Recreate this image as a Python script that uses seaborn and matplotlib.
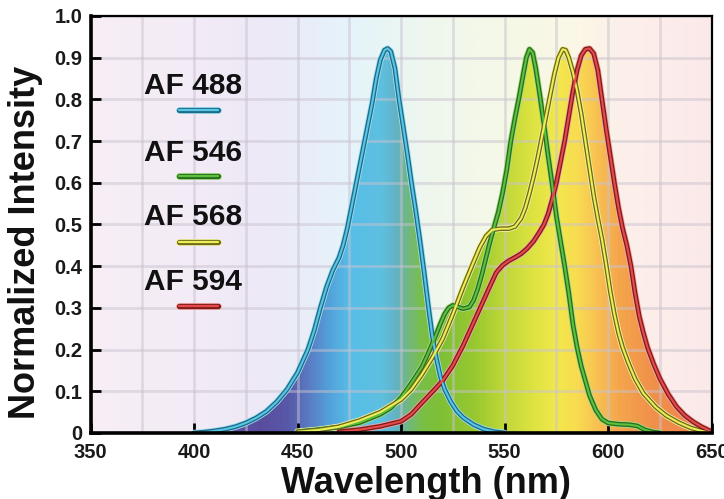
import numpy as np
import pandas as pd
import matplotlib
matplotlib.use("Agg")
import matplotlib.pyplot as plt
import seaborn as sns
from matplotlib.colors import LinearSegmentedColormap
from matplotlib.patches import Polygon

# ---------------- data ----------------
dyes = ["AF 488", "AF 546", "AF 568", "AF 594"]

wl_488 = [400, 405, 410, 415, 420, 425, 430, 435, 440, 445, 450, 455, 458, 461, 464, 467, 470,
          472, 474, 476, 478, 480, 482, 484, 486, 488, 490, 492, 493.5, 495, 497, 499, 501,
          503, 505, 507, 509, 511, 513, 515, 517, 519, 521, 524, 527, 530, 535, 540, 545, 550]
int_488 = [0.0, 0.002, 0.005, 0.009, 0.015, 0.024, 0.036, 0.052, 0.075, 0.105, 0.145, 0.20,
           0.245, 0.30, 0.35, 0.39, 0.42, 0.45, 0.49, 0.54, 0.59, 0.64, 0.69, 0.74, 0.79, 0.85,
           0.895, 0.918, 0.922, 0.915, 0.875, 0.80, 0.735, 0.67, 0.60, 0.535, 0.465, 0.39,
           0.31, 0.235, 0.18, 0.135, 0.105, 0.075, 0.052, 0.037, 0.02, 0.009, 0.003, 0.0]

wl_546 = [450, 460, 470, 480, 490, 495, 500, 505, 510, 513, 516, 519, 521, 523, 525, 527, 530,
          533, 535, 537, 539, 541, 543, 545, 547, 549, 551, 553, 555, 557, 559, 560.5, 562,
          563.5, 565, 567, 569, 571, 573, 575, 577, 579, 581, 583, 585, 587, 589, 591, 594,
          597, 600, 605, 610, 614, 618, 622, 625]
int_546 = [0.003, 0.008, 0.014, 0.025, 0.045, 0.06, 0.085, 0.12, 0.158, 0.19, 0.225, 0.262,
           0.285, 0.30, 0.306, 0.303, 0.298, 0.302, 0.318, 0.345, 0.38, 0.42, 0.46, 0.495,
           0.53, 0.575, 0.63, 0.70, 0.755, 0.805, 0.86, 0.90, 0.92, 0.912, 0.875, 0.81, 0.74,
           0.665, 0.595, 0.52, 0.46, 0.40, 0.335, 0.26, 0.205, 0.16, 0.125, 0.09, 0.055,
           0.033, 0.024, 0.021, 0.02, 0.017, 0.007, 0.002, 0.0]

wl_568 = [450, 460, 470, 480, 490, 500, 505, 510, 515, 520, 525, 530, 535, 538, 541, 544, 548,
          552, 555, 558, 560, 562, 564, 566, 568, 570, 572, 574, 576, 578, 579.5, 581, 583,
          585, 587, 589, 591, 593, 595, 597, 599, 601, 603, 605, 607, 610, 613, 617, 623, 628,
          634, 640, 645, 650]
int_568 = [0.003, 0.007, 0.015, 0.03, 0.05, 0.08, 0.105, 0.14, 0.18, 0.225, 0.285, 0.35, 0.41,
           0.445, 0.472, 0.487, 0.49, 0.49, 0.495, 0.515, 0.54, 0.575, 0.615, 0.66, 0.71, 0.76,
           0.81, 0.86, 0.90, 0.92, 0.918, 0.90, 0.865, 0.82, 0.765, 0.70, 0.635, 0.57, 0.515,
           0.465, 0.405, 0.34, 0.285, 0.24, 0.205, 0.165, 0.13, 0.095, 0.062, 0.042, 0.025,
           0.012, 0.005, 0.0]

wl_594 = [470, 480, 490, 500, 505, 510, 515, 520, 525, 530, 535, 540, 543, 546, 549, 552, 555,
          558, 561, 564, 567, 569, 571, 573, 575, 577, 579, 581, 583, 585, 587, 589, 591, 593,
          595, 597, 599, 601, 603, 605, 607, 609, 611, 613, 615, 617, 619, 622, 625, 629, 633,
          637, 641, 645, 650]
int_594 = [0.003, 0.008, 0.016, 0.028, 0.045, 0.072, 0.098, 0.125, 0.162, 0.21, 0.265, 0.32,
           0.353, 0.385, 0.402, 0.413, 0.421, 0.43, 0.443, 0.46, 0.483, 0.50, 0.525, 0.56,
           0.60, 0.65, 0.70, 0.76, 0.82, 0.87, 0.905, 0.92, 0.922, 0.91, 0.87, 0.80, 0.73,
           0.665, 0.60, 0.54, 0.49, 0.45, 0.40, 0.335, 0.28, 0.24, 0.205, 0.165, 0.13, 0.093,
           0.063, 0.042, 0.027, 0.015, 0.003]

x_ticks = [350, 400, 450, 500, 550, 600, 650]
x_tick_labels = ["350", "400", "450", "500", "550", "600", "650"]
y_ticks = [0.0, 0.1, 0.2, 0.3, 0.4, 0.5, 0.6, 0.7, 0.8, 0.9, 1.0]
y_tick_labels = ["0", "0.1", "0.2", "0.3", "0.4", "0.5", "0.6", "0.7", "0.8", "0.9", "1.0"]

# ---------------- style ----------------
sns.set_theme(style="white")
plt.rcParams["font.family"] = ["Liberation Sans", "DejaVu Sans"]
plt.rcParams["font.weight"] = "bold"

series = [
    (wl_488, int_488, ("#9fe0f2", "#1f6a86", "#58c6e6")),
    (wl_546, int_546, ("#a6dc88", "#2a6e1c", "#5cc040")),
    (wl_568, int_568, ("#f4f4a0", "#6e6a18", "#eeee58")),
    (wl_594, int_594, ("#f4a8a8", "#7e1c1c", "#e64a4a")),
]

fig = plt.figure(figsize=(7.24, 4.99), dpi=100)
ax = fig.add_axes([0.125, 0.1323, 0.858, 0.8357])
ax.set_xlim(350, 650)
ax.set_ylim(0, 1.0)

# background spectral gradient
bg_stops = [(350, "#f7eef5"), (400, "#f3ebf6"), (430, "#eee9f6"), (455, "#e9eef9"),
            (475, "#e5f3fb"), (495, "#eaf6f4"), (515, "#eff7ee"), (535, "#f3f8ea"),
            (560, "#f7f8e6"), (585, "#fbf7e6"), (605, "#fcf0ea"), (630, "#fcecea"),
            (650, "#fbe9ea")]
bg_cmap = LinearSegmentedColormap.from_list(
    "bg", [((w - 350) / 300, c) for w, c in bg_stops])
grad = np.linspace(0, 1, 600).reshape(1, -1)
ax.imshow(grad, cmap=bg_cmap, aspect="auto", extent=[350, 650, 0, 1], zorder=0,
          interpolation="bilinear")

# fill gradient under each curve
fill_stops = [(350, "#7466b4"), (400, "#7060b0"), (430, "#5a4c9e"), (445, "#5858a8"),
              (455, "#5a7cc4"), (465, "#52a2da"), (475, "#58bee8"), (490, "#5ec0e0"),
              (497, "#62b2c6"), (503, "#70b880"), (510, "#7abf44"), (520, "#80c035"),
              (535, "#98c830"), (550, "#c0d838"), (565, "#e0e442"), (575, "#f2e84c"),
              (585, "#f8dc50"), (595, "#f8c052"), (605, "#f5a64c"), (620, "#f0924a"),
              (650, "#ee8050")]
fill_cmap = LinearSegmentedColormap.from_list(
    "fill", [((w - 350) / 300, c) for w, c in fill_stops])
for wl, iv, _ in series:
    im = ax.imshow(grad, cmap=fill_cmap, aspect="auto", extent=[350, 650, 0, 1],
                   zorder=1, interpolation="bilinear")
    pts = np.column_stack([list(wl) + [wl[-1], wl[0]], list(iv) + [0, 0]])
    poly = Polygon(pts, closed=True, transform=ax.transData)
    im.set_clip_path(poly)

# grid
ax.set_xticks(np.arange(375, 650, 50), minor=True)
ax.grid(True, which="both", axis="x", color="#c9c2cf", alpha=0.5, lw=2.0, zorder=1.5)
ax.grid(True, which="major", axis="y", color="#c9c2cf", alpha=0.5, lw=2.0, zorder=1.5)
ax.set_axisbelow(False)
for gl in ax.get_xgridlines() + ax.get_ygridlines():
    gl.set_zorder(1.5)

# curves (tube style)
for (wl, iv, (glow, dark, bright)), name in zip(series, dyes):
    df = pd.DataFrame({"Wavelength": wl, "Intensity": iv})
    for lw, col, z in [(4.6, glow, 3), (3.4, dark, 3.1), (1.5, bright, 3.2)]:
        sns.lineplot(data=df, x="Wavelength", y="Intensity", ax=ax, color=col, lw=lw,
                     sort=False, zorder=z, solid_capstyle="round", solid_joinstyle="round")

# legend (text + tube swatch)
text_y = [0.831, 0.671, 0.517, 0.361]
sw_y = [0.775, 0.616, 0.459, 0.304]
for (wl, iv, (glow, dark, bright)), name, ty, sy in zip(series, dyes, text_y, sw_y):
    ax.text(0.165, ty, name, transform=ax.transAxes, ha="center", va="center",
            fontsize=21.5, fontweight="bold", color="#111111", zorder=5)
    for lw, col in [(5.0, glow), (3.8, dark), (1.6, bright)]:
        ax.plot([0.142, 0.206], [sy, sy], transform=ax.transAxes, color=col, lw=lw,
                solid_capstyle="round", zorder=5)

# ticks / spines
ax.set_xticks(x_ticks)
ax.set_xticklabels(x_tick_labels)
ax.set_yticks(y_ticks)
ax.set_yticklabels(y_tick_labels)
ax.tick_params(axis="both", which="major", direction="in", length=7, width=2.0,
               color="black", labelsize=14.5, bottom=True, left=True)
ax.tick_params(axis="x", which="major", pad=7)
ax.tick_params(axis="y", which="major", pad=6)
ax.tick_params(axis="both", which="minor", length=0)
for lab in ax.get_xticklabels() + ax.get_yticklabels():
    lab.set_fontweight("bold")
    lab.set_color("#1a1a1a")
for side, w in [("left", 2.6), ("bottom", 2.6), ("top", 1.6), ("right", 1.6)]:
    ax.spines[side].set_visible(True)
    ax.spines[side].set_linewidth(w)
    ax.spines[side].set_color("black")
    ax.spines[side].set_zorder(6)

ax.set_xlabel("Wavelength (nm)", fontsize=26, fontweight="bold", color="#111111")
ax.set_ylabel("Normalized Intensity", fontsize=26, fontweight="bold", color="#111111")
ax.xaxis.set_label_coords(0.54, -0.12)
ax.xaxis.label.set_va("center")
ax.yaxis.set_label_coords(-0.105, 0.457)
ax.yaxis.label.set_va("center")

fig.savefig("out.png", dpi=100)
